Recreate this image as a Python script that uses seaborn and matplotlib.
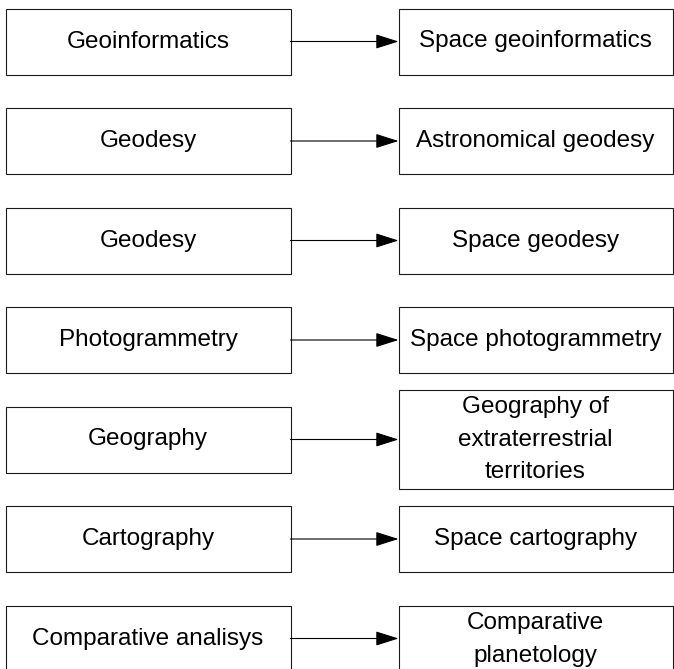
import matplotlib
matplotlib.use("Agg")
import matplotlib.pyplot as plt
import seaborn as sns
from matplotlib.patches import Rectangle

# Diagram content
left_labels = ['Geoinformatics', 'Geodesy', 'Geodesy', 'Photogrammetry',
               'Geography', 'Cartography', 'Comparative analisys']
right_labels = ['Space geoinformatics', 'Astronomical geodesy', 'Space geodesy',
                'Space photogrammetry', 'Geography of\nextraterrestrial\nterritories',
                'Space cartography', 'Comparative\nplanetology']

sns.set_theme(style='white')
plt.rcParams['font.family'] = ['Liberation Sans', 'DejaVu Sans']
fs = 17.5

W, H = 674, 669
fig = plt.figure(figsize=(W / 100, H / 100), dpi=100)
ax = fig.add_axes([0, 0, 1, 1])
ax.set_xlim(0, W)
ax.set_ylim(H, 0)
ax.axis('off')

# layout in pixel units
lx0, lx1 = 5.5, 290.5
rx0, rx1 = 398.5, 672.5
y_first, y_step = 41.5, 99.5
box_h = 66
lw = 0.8
col = '#1a1a1a'

for i, (lt, rt) in enumerate(zip(left_labels, right_labels)):
    cy = y_first + i * y_step
    # left box
    ax.add_patch(Rectangle((lx0, cy - box_h / 2), lx1 - lx0, box_h,
                           fill=False, ec=col, lw=lw))
    ax.text((lx0 + lx1) / 2, cy, lt, ha='center', va='center',
            fontsize=fs, color='black')
    # right box (taller for three-line text)
    n_lines = rt.count('\n') + 1
    rh = 99 if n_lines >= 3 else box_h
    ax.add_patch(Rectangle((rx0, cy - rh / 2), rx1 - rx0, rh,
                           fill=False, ec=col, lw=lw))
    ax.text((rx0 + rx1) / 2, cy + (1 if n_lines == 2 else 0), rt,
            ha='center', va='center', fontsize=fs, color='black',
            linespacing=1.62)
    # connecting arrow
    ax.annotate('', xy=(rx0, cy), xytext=(lx1, cy),
                arrowprops=dict(arrowstyle='-|>,head_length=0.95,head_width=0.3',
                                mutation_scale=15, color='black', lw=lw,
                                shrinkA=0, shrinkB=0))

fig.savefig('out.png', dpi=100, facecolor='white')
